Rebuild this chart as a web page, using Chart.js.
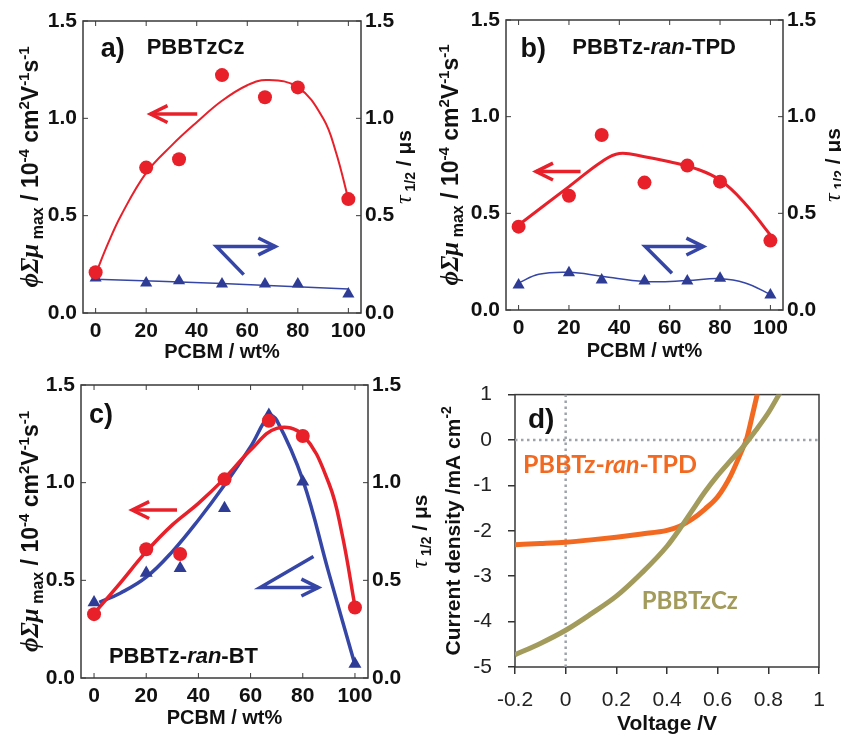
<!DOCTYPE html>
<html>
<head>
<meta charset="utf-8">
<script src="https://cdn.jsdelivr.net/npm/chart.js@4.4.1/dist/chart.umd.min.js"></script>
<style>
  html, body { margin: 0; padding: 0; background: #fff; }
  #wrap { position: relative; width: 841px; height: 737px; overflow: hidden; }
  canvas { position: absolute; }
</style>
</head>
<body>
<div id="wrap">
  <canvas id="chartA" width="425" height="366" style="left:0;top:0"></canvas>
  <canvas id="chartB" width="416" height="366" style="left:425px;top:0"></canvas>
  <canvas id="chartC" width="432" height="371" style="left:0;top:366px"></canvas>
  <canvas id="chartD" width="409" height="371" style="left:432px;top:366px"></canvas>
</div>
<script>
// ---- data ----
var pcbm = [0, 20, 33, 50, 67, 80, 100];
var pcbmTicks = [0, 20, 40, 60, 80, 100];
var mobTicks = [0, 0.5, 1.0, 1.5];

// a) PBBTzCz
var aMob = [0.209, 0.747, 0.79, 1.222, 1.108, 1.159, 0.585];
var aTau = [0.18, 0.154, 0.166, 0.149, 0.149, 0.149, 0.097];
var aMobFitX = [0, 5, 10, 20, 30, 40, 50, 60, 68, 80, 90, 95, 100];
var aMobFitY = [0.2, 0.36, 0.5, 0.72, 0.86, 0.98, 1.09, 1.17, 1.197, 1.16, 1.0, 0.83, 0.585];
var aTauFitX = [0, 50, 100];
var aTauFitY = [0.174, 0.152, 0.123];

// b) PBBTz-ran-TPD
var bMob = [0.431, 0.591, 0.905, 0.659, 0.747, 0.664, 0.359];
var bTau = [0.129, 0.193, 0.155, 0.15, 0.15, 0.164, 0.078];
var bMobFitX = [0, 20, 33, 40, 50, 60, 70, 80, 90, 100];
var bMobFitY = [0.44, 0.638, 0.767, 0.81, 0.793, 0.767, 0.733, 0.672, 0.55, 0.388];
var bTauFitX = [0, 8, 20, 33, 50, 67, 80, 90, 100];
var bTauFitY = [0.14, 0.185, 0.195, 0.175, 0.148, 0.152, 0.162, 0.14, 0.08];

// c) PBBTz-ran-BT
var cMob = [0.327, 0.659, 0.635, 1.017, 1.317, 1.239, 0.361];
var cTau = [0.387, 0.537, 0.562, 0.869, 1.346, 1.005, 0.072];
var cMobFitX = [0, 10, 20, 30, 40, 50, 60, 70, 80, 90, 95, 100];
var cMobFitY = [0.33, 0.486, 0.647, 0.784, 0.894, 1.022, 1.167, 1.278, 1.244, 0.997, 0.741, 0.366];
var cTauFitX = [2, 10, 20, 30, 40, 50, 60, 67, 70, 80, 90, 100];
var cTauFitY = [0.387, 0.434, 0.516, 0.647, 0.809, 0.988, 1.184, 1.341, 1.32, 1.014, 0.537, 0.068];

// d) J-V curves
var voltTicks = [-0.2, 0, 0.2, 0.4, 0.6, 0.8, 1];
var currentTicks = [-5, -4, -3, -2, -1, 0, 1];
var tpdV = [-0.2, -0.1, 0, 0.1, 0.2, 0.3, 0.4, 0.45, 0.5, 0.55, 0.6, 0.65, 0.7, 0.713, 0.74, 0.76];
var tpdJ = [-2.305, -2.28, -2.25, -2.2, -2.14, -2.07, -1.99, -1.9, -1.74, -1.52, -1.25, -0.8, -0.17, 0, 0.62, 1.1];
var czV = [-0.2, -0.1, 0, 0.1, 0.2, 0.3, 0.4, 0.45, 0.5, 0.55, 0.6, 0.65, 0.7, 0.75, 0.8, 0.85];
var czJ = [-4.73, -4.48, -4.19, -3.83, -3.44, -2.93, -2.34, -1.96, -1.55, -1.14, -0.78, -0.46, -0.15, 0.21, 0.6, 1.08];
var zeroV = [[0, -5], [0, 1]];
var zeroJ = [[-0.2, 0], [1, 0]];

// arrows (data coordinates, head at the last point)
var aRedArrow = [[40.2, 1.022], [21.7, 1.022]];
var aBlueArrow = [[58.6, 0.197], [47.8, 0.342], [71.1, 0.342]];
var bRedArrow = [[24.6, 0.716], [6.9, 0.716]];
var bBlueArrow = [[60.9, 0.19], [50.3, 0.328], [73.4, 0.328]];
var cRedArrow = [[31.8, 0.86], [14.6, 0.86]];
var cBlueArrow = [[84.1, 0.622], [63.7, 0.463], [86, 0.463]];

// ---- styles ----
var SANS = "'Liberation Sans', Arial, sans-serif";
var SERIF = "'Liberation Serif', 'Times New Roman', serif";
var RED = '#e8202a';
var BLUE = '#2e3c96';
var BLUE_LINE = '#3546a6';
var ORANGE = '#f26a21';
var OLIVE = '#a39b5b';
var INK = '#111';

Chart.defaults.font.family = SANS;
Chart.defaults.color = INK;

function pairs(xs, ys) {
  return xs.map(function (x, i) { return { x: x, y: ys[i] }; });
}
function seg(t, f, dy, c) { return { t: t, f: f, dy: dy || 0, c: c }; }

function drawRich(ctx, x, y, segs, rot, align) {
  ctx.save();
  ctx.translate(x, y);
  if (rot) ctx.rotate(rot);
  ctx.textBaseline = 'alphabetic';
  ctx.textAlign = 'left';
  var w = 0;
  segs.forEach(function (s) { ctx.font = s.f; w += ctx.measureText(s.t).width; });
  var cx = align === 'center' ? -w / 2 : 0;
  segs.forEach(function (s) {
    ctx.font = s.f;
    ctx.fillStyle = s.c || INK;
    ctx.fillText(s.t, cx, s.dy);
    cx += ctx.measureText(s.t).width;
  });
  ctx.restore();
}

function line(ctx, x1, y1, x2, y2) {
  ctx.beginPath(); ctx.moveTo(x1, y1); ctx.lineTo(x2, y2); ctx.stroke();
}

var mobTitle = [
  seg('ϕΣμ', 'italic bold 25px ' + SERIF),
  seg(' max', 'bold 16px ' + SANS, 5),
  seg(' / 10', 'bold 23px ' + SANS),
  seg('-4', 'bold 15px ' + SANS, -9),
  seg(' cm', 'bold 23px ' + SANS),
  seg('2', 'bold 15px ' + SANS, -9),
  seg('V', 'bold 23px ' + SANS),
  seg('-1', 'bold 15px ' + SANS, -9),
  seg('s', 'bold 23px ' + SANS),
  seg('-1', 'bold 15px ' + SANS, -9)
];
var tauTitle = [
  seg('τ', 'italic 24px ' + SERIF),
  seg(' 1/2', 'bold 14px ' + SANS, 4),
  seg(' / μs', 'bold 21px ' + SANS)
];
var jTitle = [
  seg('Current density /mA cm', 'bold 21px ' + SANS),
  seg('-2', 'bold 14px ' + SANS, -9)
];

// frame, inner ticks, arrows, in-plot labels, rich axis titles
function decor(cfg) {
  return {
    id: 'decor',
    beforeDatasetsDraw: function (chart) {
      var ctx = chart.ctx, ca = chart.chartArea;
      ctx.save();
      ctx.strokeStyle = '#3a3a3a';
      ctx.lineWidth = 1.5;
      ctx.strokeRect(ca.left, ca.top, ca.right - ca.left, ca.bottom - ca.top);
      if (cfg.inner) {
        ctx.lineWidth = 1;
        var L = 5, sx = chart.scales.x, sy = chart.scales.y, sy2 = chart.scales.y2;
        sx.ticks.forEach(function (t) {
          var p = sx.getPixelForValue(t.value);
          line(ctx, p, ca.bottom, p, ca.bottom - L);
          line(ctx, p, ca.top, p, ca.top + L);
        });
        sy.ticks.forEach(function (t) {
          var p = sy.getPixelForValue(t.value);
          line(ctx, ca.left, p, ca.left + L, p);
        });
        if (sy2) sy2.ticks.forEach(function (t) {
          var p = sy2.getPixelForValue(t.value);
          line(ctx, ca.right, p, ca.right - L, p);
        });
      }
      ctx.restore();
    },
    afterDatasetsDraw: function (chart) {
      var ctx = chart.ctx, sx = chart.scales.x;
      ctx.save();
      (cfg.arrows || []).forEach(function (a) {
        var sy = chart.scales[a.axis || 'y'];
        var px = a.pts.map(function (p) { return [sx.getPixelForValue(p[0]), sy.getPixelForValue(p[1])]; });
        ctx.strokeStyle = a.color;
        ctx.lineWidth = 3.5;
        ctx.lineCap = 'butt';
        ctx.lineJoin = 'miter';
        ctx.beginPath();
        ctx.moveTo(px[0][0], px[0][1]);
        for (var i = 1; i < px.length; i++) ctx.lineTo(px[i][0], px[i][1]);
        ctx.stroke();
        var tip = px[px.length - 1], prev = px[px.length - 2];
        var ang = Math.atan2(tip[1] - prev[1], tip[0] - prev[0]);
        var hl = 19, ha = 0.46;
        ctx.beginPath();
        ctx.moveTo(tip[0] - hl * Math.cos(ang - ha), tip[1] - hl * Math.sin(ang - ha));
        ctx.lineTo(tip[0], tip[1]);
        ctx.lineTo(tip[0] - hl * Math.cos(ang + ha), tip[1] - hl * Math.sin(ang + ha));
        ctx.stroke();
      });
      (cfg.labels || []).forEach(function (l) {
        var sy = chart.scales.y;
        drawRich(ctx, sx.getPixelForValue(l.x), sy.getPixelForValue(l.y), l.segs, 0, 'left');
      });
      ctx.restore();
    },
    afterDraw: function (chart) {
      var ctx = chart.ctx, ca = chart.chartArea, mid = (ca.top + ca.bottom) / 2;
      if (cfg.leftTitle) drawRich(ctx, cfg.leftTitle.x, mid, cfg.leftTitle.segs, -Math.PI / 2, 'center');
      if (cfg.rightTitle) drawRich(ctx, cfg.rightTitle.x, mid, cfg.rightTitle.segs, -Math.PI / 2, 'center');
    }
  };
}

function fixedTicks(list) {
  return function (scale) { scale.ticks = list.map(function (v) { return { value: v }; }); };
}

function mobilityPanel(id, p) {
  var tickFont = { size: 21, weight: 'bold' };
  var noGrid = { display: false, drawTicks: false };
  return new Chart(document.getElementById(id), {
    type: 'scatter',
    data: {
      datasets: [
        { data: pairs(pcbm, p.mob), pointStyle: 'circle', pointRadius: 7, backgroundColor: RED, borderColor: RED, borderWidth: 0, yAxisID: 'y' },
        { data: pairs(pcbm, p.tau), pointStyle: 'triangle', pointRadius: p.triR, backgroundColor: BLUE, borderColor: BLUE, borderWidth: 0, yAxisID: 'y2' },
        { data: pairs(p.mobFitX, p.mobFitY), showLine: true, pointRadius: 0, borderColor: RED, borderWidth: p.redW, tension: 0.4, yAxisID: 'y' },
        { data: pairs(p.tauFitX, p.tauFitY), showLine: true, pointRadius: 0, borderColor: BLUE_LINE, borderWidth: p.blueW, tension: 0.4, yAxisID: 'y2' }
      ]
    },
    options: {
      responsive: false,
      animation: false,
      devicePixelRatio: 1,
      layout: { padding: { top: p.top, left: 0, right: 0, bottom: 0 } },
      plugins: { legend: { display: false }, tooltip: { enabled: false } },
      scales: {
        x: {
          type: 'linear', min: -5, max: 105,
          afterBuildTicks: fixedTicks(pcbmTicks),
          afterFit: function (s) { s.height = p.xH; },
          grid: noGrid, border: { display: false },
          ticks: { font: tickFont, color: INK, padding: 6, maxRotation: 0 },
          title: { display: true, text: 'PCBM / wt%', color: INK, font: { size: 20, weight: 'bold' }, padding: { top: 0, bottom: p.xtPad } }
        },
        y: {
          position: 'left', min: 0, max: 1.5,
          afterBuildTicks: fixedTicks(mobTicks),
          afterFit: function (s) { s.width = p.left; },
          grid: noGrid, border: { display: false },
          ticks: { font: tickFont, color: INK, padding: 6, callback: function (v) { return v.toFixed(1); } }
        },
        y2: {
          position: 'right', min: 0, max: 1.5,
          afterBuildTicks: fixedTicks(mobTicks),
          afterFit: function (s) { s.width = p.right; },
          grid: noGrid, border: { display: false },
          ticks: { font: tickFont, color: INK, padding: 4, callback: function (v) { return v.toFixed(1); } }
        }
      }
    },
    plugins: [decor({
      inner: true,
      arrows: [{ pts: p.redArrow, color: RED }, { pts: p.blueArrow, color: BLUE_LINE, axis: 'y2' }],
      labels: p.labels,
      leftTitle: { x: p.leftTitleX, segs: mobTitle },
      rightTitle: { x: p.rightTitleX, segs: tauTitle }
    })]
  });
}

var panelFont = 'bold 27px ' + SANS;
var nameFont = 'bold 22px ' + SANS;
var nameItalic = 'italic bold 22px ' + SANS;

mobilityPanel('chartA', {
  mob: aMob, tau: aTau, mobFitX: aMobFitX, mobFitY: aMobFitY, tauFitX: aTauFitX, tauFitY: aTauFitY,
  triR: 7, redW: 2, blueW: 1.5,
  top: 21, left: 83, right: 64, xH: 53, xtPad: 2,
  redArrow: aRedArrow, blueArrow: aBlueArrow,
  leftTitleX: 38, rightTitleX: 411,
  labels: [
    { x: 2, y: 1.313, segs: [seg('a)', panelFont)] },
    { x: 20.2, y: 1.333, segs: [seg('PBBTzCz', nameFont)] }
  ]
});

mobilityPanel('chartB', {
  mob: bMob, tau: bTau, mobFitX: bMobFitX, mobFitY: bMobFitY, tauFitX: bTauFitX, tauFitY: bTauFitY,
  triR: 7, redW: 3, blueW: 1.5,
  top: 20, left: 81, right: 58, xH: 56, xtPad: 3,
  redArrow: bRedArrow, blueArrow: bBlueArrow,
  leftTitleX: 33, rightTitleX: 415,
  labels: [
    { x: 0.8, y: 1.309, segs: [seg('b)', panelFont)] },
    { x: 21.3, y: 1.324, segs: [seg('PBBTz-', nameFont), seg('ran', nameItalic), seg('-TPD', nameFont)] }
  ]
});

mobilityPanel('chartC', {
  mob: cMob, tau: cTau, mobFitX: cMobFitX, mobFitY: cMobFitY, tauFitX: cTauFitX, tauFitY: cTauFitY,
  triR: 7.5, redW: 3.5, blueW: 3.5,
  top: 19, left: 81, right: 64, xH: 59, xtPad: 7,
  redArrow: cRedArrow, blueArrow: cBlueArrow,
  leftTitleX: 38, rightTitleX: 427,
  labels: [
    { x: -1.9, y: 1.308, segs: [seg('c)', panelFont)] },
    { x: 5.7, y: 0.077, segs: [seg('PBBTz-', nameFont), seg('ran', nameItalic), seg('-BT', nameFont)] }
  ]
});

// d) current density vs voltage
var calFont = "'Lato', 'Open Sans', sans-serif";
new Chart(document.getElementById('chartD'), {
  type: 'scatter',
  data: {
    datasets: [
      { data: pairs(czV, czJ), showLine: true, pointRadius: 0, borderColor: OLIVE, borderWidth: 5, cubicInterpolationMode: 'monotone' },
      { data: pairs(tpdV, tpdJ), showLine: true, pointRadius: 0, borderColor: ORANGE, borderWidth: 5, cubicInterpolationMode: 'monotone' },
      { data: zeroV.map(function (p) { return { x: p[0], y: p[1] }; }), showLine: true, pointRadius: 0, borderColor: '#9ea3aa', borderWidth: 2.5, borderDash: [2.5, 3.5] },
      { data: zeroJ.map(function (p) { return { x: p[0], y: p[1] }; }), showLine: true, pointRadius: 0, borderColor: '#9ea3aa', borderWidth: 2.5, borderDash: [2.5, 3.5] }
    ]
  },
  options: {
    responsive: false,
    animation: false,
    devicePixelRatio: 1,
    layout: { padding: { top: 21, left: 0, right: 22, bottom: 0 } },
    plugins: { legend: { display: false }, tooltip: { enabled: false } },
    scales: {
      x: {
        type: 'linear', min: -0.2, max: 1,
        afterBuildTicks: fixedTicks(voltTicks),
        afterFit: function (s) { s.height = 70; },
        grid: { drawOnChartArea: false, drawTicks: true, tickLength: 7, color: '#333', lineWidth: 1.5 },
        border: { display: false },
        ticks: { font: { size: 21 }, color: '#222', padding: 14, maxRotation: 0,
          callback: function (v) { return String(Number(v.toFixed(1))); } },
        title: { display: true, text: 'Voltage /V', color: INK, font: { size: 21, weight: 'bold' }, padding: { top: 0, bottom: 0 } }
      },
      y: {
        min: -5, max: 1,
        afterBuildTicks: fixedTicks(currentTicks),
        afterFit: function (s) { s.width = 83; },
        grid: { drawOnChartArea: false, drawTicks: true, tickLength: 7, color: '#333', lineWidth: 1.5 },
        border: { display: false },
        ticks: { font: { size: 21 }, color: '#222', padding: 16,
          callback: function (v) { return String(v); } }
      }
    }
  },
  plugins: [decor({
    inner: false,
    labels: [
      { x: -0.149, y: 0.273, segs: [seg('d)', 'bold 28px ' + SANS)] },
      { x: -0.168, y: -0.731, segs: [seg('PBBTz-', 'bold 25px ' + calFont, 0, ORANGE), seg('ran', 'italic bold 25px ' + calFont, 0, ORANGE), seg('-TPD', 'bold 25px ' + calFont, 0, ORANGE)] },
      { x: 0.30, y: -3.722, segs: [seg('PBBTzCz', 'bold 24px ' + calFont, 0, OLIVE)] }
    ],
    leftTitle: { x: 28, segs: jTitle }
  })]
});
</script>
</body>
</html>
